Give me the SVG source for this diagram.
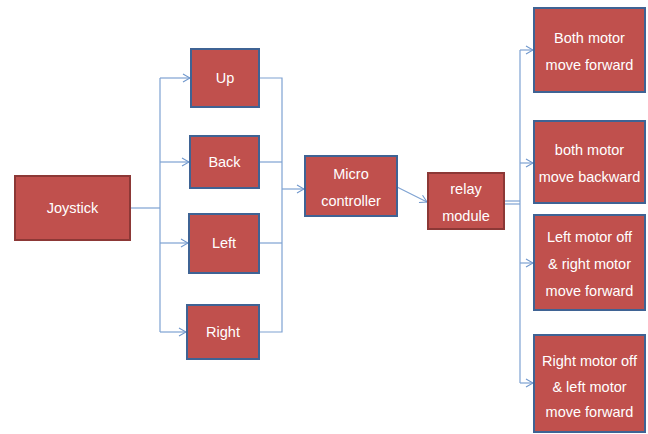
<svg xmlns="http://www.w3.org/2000/svg" width="648" height="434" viewBox="0 0 648 434">
  <defs>
    <marker id="chev" markerWidth="9" markerHeight="10" refX="8" refY="5" orient="auto" markerUnits="userSpaceOnUse">
      <path d="M1,1 L8,5 L1,9" fill="none" stroke="#6f97cc" stroke-width="1.1"/>
    </marker>
  </defs>
  <style>
    .box { fill: #c0504d; stroke-width: 2; }
    .blue { stroke: #3f6394; }
    .red { stroke: #8c3836; }
    .lbl { fill: #ffffff; font-family: "Liberation Sans", Arial, sans-serif; font-size: 14.5px; text-anchor: middle; }
    .wire { fill: none; stroke: #7ea2d2; stroke-width: 1.2; }
  </style>
  <rect width="648" height="434" fill="#ffffff"/>

  <!-- connectors -->
  <g id="connectors">
    <!-- joystick fan-out -->
    <path class="wire" d="M130,208 H160"/>
    <path class="wire" d="M160,78 V332"/>
    <path class="wire" d="M160,78 H190" marker-end="url(#chev)"/>
    <path class="wire" d="M160,162 H189" marker-end="url(#chev)"/>
    <path class="wire" d="M160,243 H188" marker-end="url(#chev)"/>
    <path class="wire" d="M160,332 H186" marker-end="url(#chev)"/>
    <!-- direction boxes merge into controller -->
    <path class="wire" d="M259,78 H282 V332 H259"/>
    <path class="wire" d="M259,162 H282"/>
    <path class="wire" d="M259,243 H282"/>
    <path class="wire" d="M282,189 H304" marker-end="url(#chev)"/>
    <!-- controller to relay -->
    <path class="wire" d="M397,187 L427,202" marker-end="url(#chev)"/>
    <!-- relay fan-out -->
    <path class="wire" d="M504,201 H520"/>
    <path class="wire" d="M504,204 H520"/>
    <path class="wire" d="M520,50 V383"/>
    <path class="wire" d="M520,50 H533" marker-end="url(#chev)"/>
    <path class="wire" d="M520,163 H533" marker-end="url(#chev)"/>
    <path class="wire" d="M520,263 H533" marker-end="url(#chev)"/>
    <path class="wire" d="M520,383 H533" marker-end="url(#chev)"/>
  </g>

  <g id="joystick">
    <rect class="box red" x="15" y="176" width="115" height="64"/>
    <text class="lbl" x="72.5" y="213">Joystick</text>
  </g>

  <g id="up">
    <rect class="box blue" x="191" y="49" width="68" height="58"/>
    <text class="lbl" x="225" y="83">Up</text>
  </g>
  <g id="back">
    <rect class="box blue" x="190" y="136" width="69" height="52"/>
    <text class="lbl" x="224.5" y="167">Back</text>
  </g>
  <g id="left">
    <rect class="box blue" x="189" y="214" width="70" height="59"/>
    <text class="lbl" x="224" y="248">Left</text>
  </g>
  <g id="right">
    <rect class="box blue" x="187" y="305" width="72" height="54"/>
    <text class="lbl" x="223" y="337">Right</text>
  </g>

  <g id="microcontroller">
    <rect class="box blue" x="305" y="156" width="92" height="60"/>
    <text class="lbl" x="351" y="179">Micro</text>
    <text class="lbl" x="351" y="206">controller</text>
  </g>

  <g id="relay">
    <rect class="box red" x="428" y="173" width="76" height="56"/>
    <text class="lbl" x="466" y="194">relay</text>
    <text class="lbl" x="466" y="221">module</text>
  </g>

  <g id="both-forward">
    <rect class="box blue" x="534" y="8" width="111" height="84"/>
    <text class="lbl" x="589.5" y="43">Both motor</text>
    <text class="lbl" x="589.5" y="70">move forward</text>
  </g>
  <g id="both-backward">
    <rect class="box blue" x="534" y="121" width="111" height="82"/>
    <text class="lbl" x="589.5" y="155">both motor</text>
    <text class="lbl" x="589.5" y="182">move backward</text>
  </g>
  <g id="left-off">
    <rect class="box blue" x="534" y="215" width="111" height="95"/>
    <text class="lbl" x="589.5" y="242">Left motor off</text>
    <text class="lbl" x="589.5" y="269">&amp; right motor</text>
    <text class="lbl" x="589.5" y="296">move forward</text>
  </g>
  <g id="right-off">
    <rect class="box blue" x="534" y="335" width="111" height="97"/>
    <text class="lbl" x="589.5" y="366">Right motor off</text>
    <text class="lbl" x="589.5" y="392">&amp; left motor</text>
    <text class="lbl" x="589.5" y="417">move forward</text>
  </g>
</svg>
